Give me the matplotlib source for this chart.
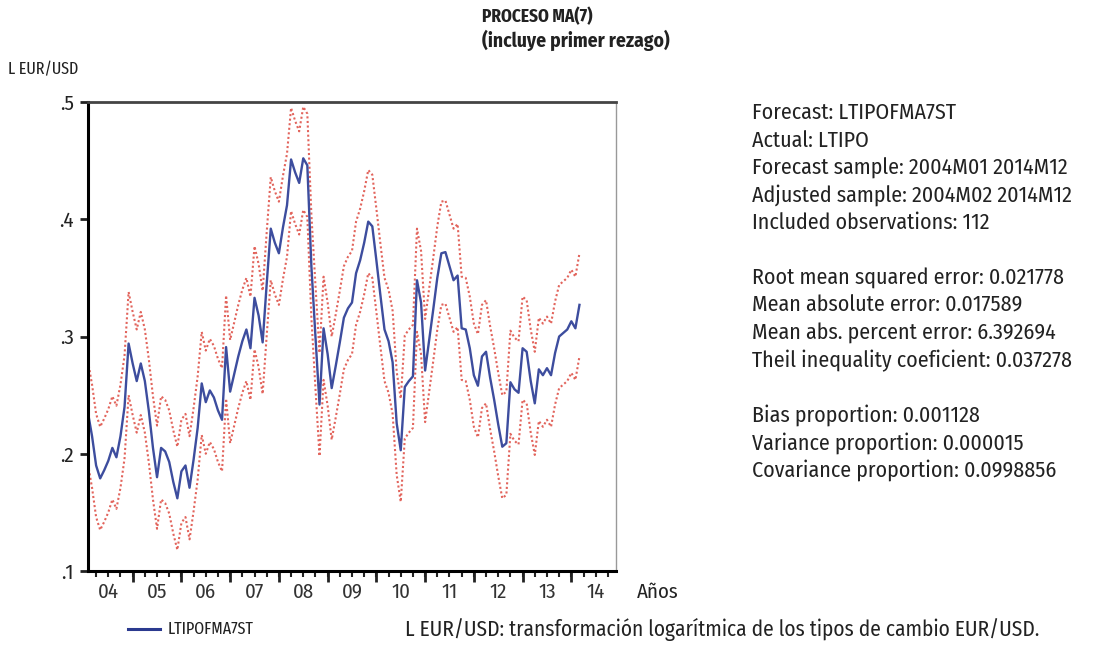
import matplotlib
matplotlib.use("Agg")
import matplotlib.pyplot as plt
import numpy as np
import pandas as pd

# static forecast of LTIPO, MA(7) with first lag, monthly from 2004M02
fcst = [
    0.235, 0.215, 0.190, 0.179, 0.186, 0.194, 0.205, 0.197, 0.215, 0.240, 0.294,
    0.277, 0.262, 0.277, 0.262, 0.236, 0.205, 0.180, 0.205, 0.202, 0.193, 0.176, 0.162,
    0.185, 0.190, 0.171, 0.195, 0.222, 0.260, 0.244, 0.254, 0.248, 0.237, 0.229, 0.291,
    0.253, 0.268, 0.283, 0.296, 0.306, 0.290, 0.333, 0.318, 0.295, 0.345, 0.392, 0.380,
    0.371, 0.393, 0.412, 0.451, 0.440, 0.431, 0.452, 0.446, 0.360, 0.300, 0.242, 0.307,
    0.285, 0.256, 0.275, 0.295, 0.316, 0.324, 0.329, 0.354, 0.365, 0.380, 0.398, 0.394,
    0.365, 0.335, 0.306, 0.296, 0.278, 0.226, 0.203, 0.257, 0.262, 0.266, 0.348, 0.329,
    0.271, 0.297, 0.323, 0.350, 0.371, 0.372, 0.360, 0.348, 0.352, 0.307, 0.306, 0.290,
    0.267, 0.258, 0.283, 0.287, 0.265, 0.246, 0.225, 0.206, 0.209, 0.261, 0.255, 0.252,
    0.290, 0.287, 0.262, 0.243, 0.272, 0.267, 0.273, 0.267, 0.286, 0.300, 0.303, 0.306,
    0.313, 0.307, 0.327,
]

# +/- 2 S.E. bands
upper = [
    0.279, 0.259, 0.234, 0.223, 0.230, 0.238, 0.249, 0.241, 0.259, 0.284, 0.338,
    0.321, 0.306, 0.321, 0.306, 0.280, 0.249, 0.224, 0.249, 0.246, 0.237, 0.220, 0.206,
    0.229, 0.234, 0.215, 0.239, 0.266, 0.304, 0.288, 0.298, 0.292, 0.281, 0.273, 0.335,
    0.297, 0.312, 0.327, 0.340, 0.350, 0.334, 0.377, 0.362, 0.339, 0.389, 0.436, 0.424,
    0.415, 0.437, 0.456, 0.495, 0.484, 0.475, 0.496, 0.490, 0.404, 0.344, 0.286, 0.351,
    0.329, 0.300, 0.319, 0.339, 0.360, 0.368, 0.373, 0.398, 0.409, 0.424, 0.442, 0.438,
    0.409, 0.379, 0.350, 0.340, 0.322, 0.270, 0.247, 0.301, 0.306, 0.310, 0.392, 0.373,
    0.315, 0.341, 0.367, 0.394, 0.415, 0.416, 0.404, 0.392, 0.396, 0.351, 0.350, 0.334,
    0.311, 0.302, 0.327, 0.331, 0.309, 0.290, 0.269, 0.250, 0.253, 0.305, 0.299, 0.296,
    0.334, 0.331, 0.306, 0.287, 0.316, 0.311, 0.317, 0.311, 0.330, 0.344, 0.347, 0.350,
    0.357, 0.351, 0.371,
]
lower = [
    0.191, 0.171, 0.146, 0.135, 0.142, 0.150, 0.161, 0.153, 0.171, 0.196, 0.250,
    0.233, 0.218, 0.233, 0.218, 0.192, 0.161, 0.136, 0.161, 0.158, 0.149, 0.132, 0.118,
    0.141, 0.146, 0.127, 0.151, 0.178, 0.216, 0.200, 0.210, 0.204, 0.193, 0.185, 0.247,
    0.209, 0.224, 0.239, 0.252, 0.262, 0.246, 0.289, 0.274, 0.251, 0.301, 0.348, 0.336,
    0.327, 0.349, 0.368, 0.407, 0.396, 0.387, 0.408, 0.402, 0.316, 0.256, 0.198, 0.263,
    0.241, 0.212, 0.231, 0.251, 0.272, 0.280, 0.285, 0.310, 0.321, 0.336, 0.354, 0.350,
    0.321, 0.291, 0.262, 0.252, 0.234, 0.182, 0.159, 0.213, 0.218, 0.222, 0.304, 0.285,
    0.227, 0.253, 0.279, 0.306, 0.327, 0.328, 0.316, 0.304, 0.308, 0.263, 0.262, 0.246,
    0.223, 0.214, 0.239, 0.243, 0.221, 0.202, 0.181, 0.162, 0.165, 0.217, 0.211, 0.208,
    0.246, 0.243, 0.218, 0.199, 0.228, 0.223, 0.229, 0.223, 0.242, 0.256, 0.259, 0.262,
    0.269, 0.263, 0.283,
]

year_labels = ["04", "05", "06", "07", "08", "09", "10", "11", "12", "13", "14"]
ytick_vals = [0.1, 0.2, 0.3, 0.4, 0.5]
ytick_labels = [".1", ".2", ".3", ".4", ".5"]

stats_lines = [
    "Forecast: LTIPOFMA7ST",
    "Actual: LTIPO",
    "Forecast sample: 2004M01 2014M12",
    "Adjusted sample: 2004M02 2014M12",
    "Included observations: 112",
    "",
    "Root mean squared error: 0.021778",
    "Mean absolute error: 0.017589",
    "Mean abs. percent error: 6.392694",
    "Theil inequality coeficient: 0.037278",
    "",
    "Bias proportion: 0.001128",
    "Variance proportion: 0.000015",
    "Covariance proportion: 0.0998856",
]

plt.rcParams["font.family"] = ["Fira Sans Condensed", "DejaVu Sans"]
NARROW = ["Fira Sans Extra Condensed", "Fira Sans Condensed", "DejaVu Sans"]
TXT = "#222222"

months = pd.period_range("2004-02", periods=len(fcst), freq="M")
t = months.year + (months.month - 1) / 12.0

fig = plt.figure(figsize=(10.93, 6.57), dpi=100)
ax = fig.add_axes([0.0805, 0.1309, 0.4831, 0.7138])

ax.plot(t, upper, color="#e2645c", lw=1.5, ls=(0, (1.0, 1.2)))
ax.plot(t, lower, color="#e2645c", lw=1.5, ls=(0, (1.0, 1.2)))
ax.plot(t, fcst, color="#3d4d9e", lw=1.7)

ax.set_xlim(2004 + 1 / 12, 2014 + 11 / 12)
ax.set_ylim(0.1, 0.5)

years = np.arange(2004, 2015)
ax.set_xticks(years + 0.5)
ax.set_xticklabels(year_labels, fontsize=15, color="#333333")
ax.set_xticks(np.arange(2004.25, 2015.0, 0.25), minor=True)
ax.xaxis.remove_overlapping_locs = False
ax.tick_params(axis="x", which="major", length=0, pad=8)
ax.tick_params(axis="x", which="minor", length=4, width=1.5, color=TXT)
sec = ax.secondary_xaxis("bottom")
sec.set_xticks(years[1:])
sec.set_xticklabels([])
sec.tick_params(length=8, width=2, color=TXT)
sec.spines["bottom"].set_visible(False)

ax.set_yticks(ytick_vals)
ax.set_yticklabels(ytick_labels, fontsize=15, color=TXT)
ax.tick_params(axis="y", length=6, width=2, color=TXT, pad=4)

ax.spines["left"].set_linewidth(2.2)
ax.spines["bottom"].set_linewidth(2.2)
ax.spines["top"].set_linewidth(2.0)
ax.spines["top"].set_color("#444444")
ax.spines["right"].set_linewidth(1.0)
ax.spines["right"].set_color("#999999")

fig.text(482 / 1093, 1 - 17 / 657, "PROCESO MA(7)", fontsize=13.5, fontweight="bold",
         family=NARROW, va="center", ha="left", color=TXT)
fig.text(482 / 1093, 1 - 40 / 657, "(incluye primer rezago)", fontsize=14, fontweight="bold",
         va="center", ha="left", color=TXT)
fig.text(8 / 1093, 1 - 70 / 657, "L EUR/USD", fontsize=12.5, family=NARROW,
         va="center", ha="left", color=TXT)
fig.text(637 / 1093, 1 - 592 / 657, "Años", fontsize=15, va="center", ha="left", color=TXT)

y0 = 113
for k, line in enumerate(stats_lines):
    if line:
        fig.text(752 / 1093, 1 - (y0 + k * 27.5) / 657, line, fontsize=15.8,
                 va="center", ha="left", color=TXT)

fig.lines.append(plt.Line2D([128 / 1093, 160 / 1093], [1 - 629 / 657] * 2,
                            transform=fig.transFigure, color="#2b3a8f", lw=2.2))
fig.text(168 / 1093, 1 - 629 / 657, "LTIPOFMA7ST", fontsize=12.5, family=NARROW,
         va="center", ha="left", color=TXT)
fig.text(405 / 1093, 1 - 629 / 657, "L EUR/USD: transformación logarítmica de los tipos de cambio EUR/USD.",
         fontsize=15.4, va="center", ha="left", color=TXT)

fig.savefig("out.png", dpi=100)
